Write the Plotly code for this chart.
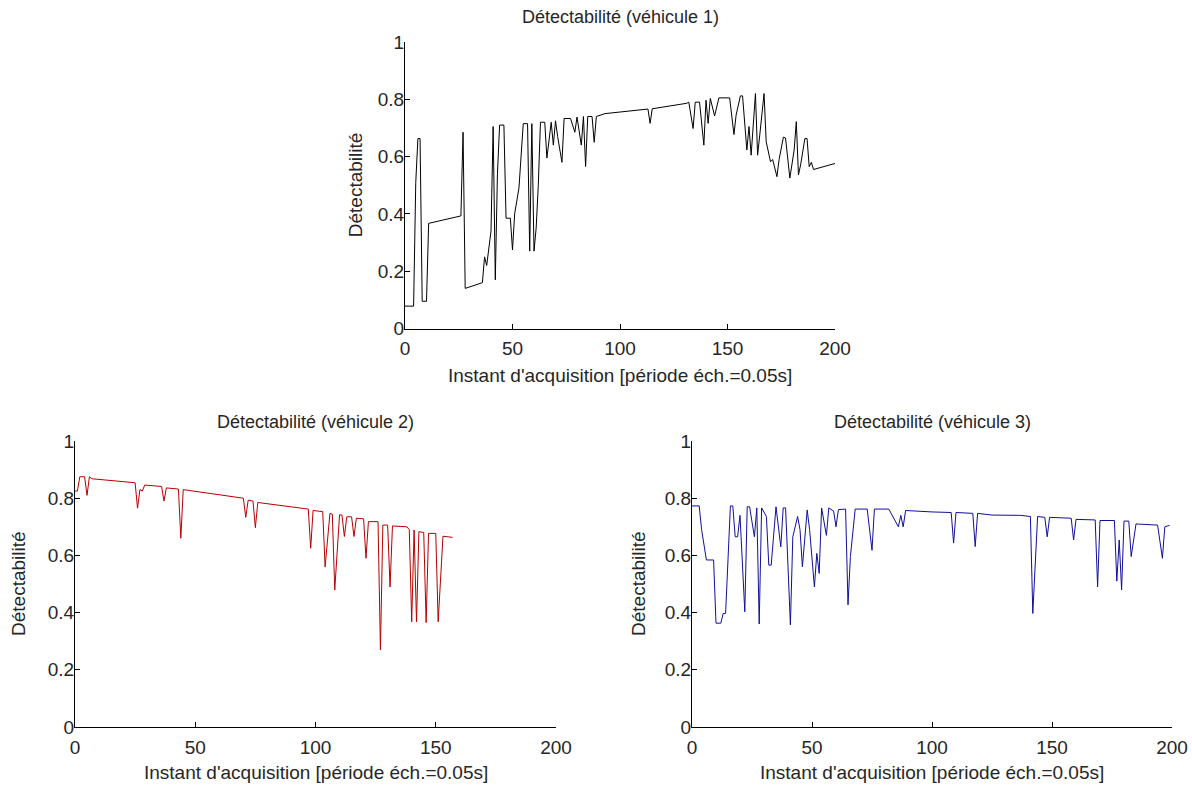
import plotly.graph_objects as go

W, H = 1192, 785

# ---- data ----
t1 = [0, 4, 5, 6, 7, 8, 10, 11, 26, 27, 28, 36, 37, 38, 40, 41, 42, 43, 44, 46,
      47, 49, 50, 51, 53, 55, 57, 58, 59, 60, 61, 62, 63, 65, 66, 68, 69, 70, 71, 73,
      74, 77, 79, 80, 82, 83, 84, 85, 87, 88, 89, 93, 113, 114, 115, 131, 132, 134, 135, 137,
      139, 140, 141, 142, 144, 146, 151, 153, 154, 156, 157, 159, 160, 161, 163, 164, 165, 167, 168, 170,
      171, 173, 174, 176, 177, 179, 181, 182, 183, 184, 186, 187, 188, 189, 190, 200]
d1 = [0.078, 0.078, 0.51, 0.663, 0.663, 0.095, 0.095, 0.367, 0.393, 0.685, 0.14, 0.16, 0.25, 0.22, 0.34, 0.705, 0.17, 0.54, 0.71, 0.71,
      0.385, 0.385, 0.274, 0.40, 0.49, 0.715, 0.715, 0.27, 0.715, 0.27, 0.35, 0.50, 0.72, 0.72, 0.595, 0.72, 0.64, 0.725, 0.67, 0.58,
      0.733, 0.733, 0.685, 0.738, 0.64, 0.74, 0.565, 0.74, 0.74, 0.65, 0.74, 0.75, 0.766, 0.716, 0.767, 0.786, 0.79, 0.698, 0.79, 0.79,
      0.64, 0.797, 0.716, 0.803, 0.742, 0.805, 0.805, 0.677, 0.745, 0.812, 0.812, 0.623, 0.705, 0.605, 0.82, 0.605, 0.675, 0.82, 0.652, 0.582,
      0.59, 0.53, 0.59, 0.668, 0.665, 0.525, 0.623, 0.722, 0.536, 0.571, 0.663, 0.663, 0.565, 0.58, 0.555, 0.576]

t2 = [0, 1, 2, 4, 5, 6, 7, 25, 26, 27, 28, 29, 36, 37, 38, 43, 44, 45, 70, 71,
      72, 74, 75, 76, 97, 98, 99, 103, 104, 106, 107, 108, 110, 111, 112, 113, 115, 116, 117, 120,
      121, 122, 126, 127, 128, 130, 131, 132, 138, 139, 140, 141, 142, 143, 145, 146, 147, 150, 151, 152,
      153, 157]
d2 = [0.825, 0.825, 0.875, 0.875, 0.81, 0.875, 0.868, 0.854, 0.765, 0.83, 0.825, 0.846, 0.841, 0.79, 0.836, 0.832, 0.66, 0.83, 0.80, 0.733,
      0.793, 0.79, 0.697, 0.785, 0.762, 0.625, 0.757, 0.753, 0.56, 0.747, 0.744, 0.479, 0.742, 0.741, 0.666, 0.735, 0.735, 0.666, 0.73, 0.728,
      0.59, 0.718, 0.718, 0.27, 0.706, 0.706, 0.49, 0.703, 0.70, 0.69, 0.368, 0.689, 0.368, 0.683, 0.68, 0.365, 0.677, 0.677, 0.368, 0.526,
      0.667, 0.663]

t3 = [0, 3, 4, 5, 6, 9, 10, 12, 13, 14, 15, 16, 17, 18, 19, 20, 22, 23, 24, 26,
      27, 28, 29, 31, 32, 33, 35, 36, 37, 38, 39, 41, 42, 44, 45, 46, 48, 49, 51, 52,
      53, 54, 56, 57, 59, 60, 61, 64, 65, 66, 68, 73, 75, 76, 82, 86, 87, 88, 89, 100,
      108, 109, 110, 117, 118, 119, 125, 137, 141, 142, 144, 147, 148, 149, 158, 159, 160, 168, 169, 170,
      176, 177, 178, 179, 180, 182, 183, 185, 194, 196, 197, 199]
d3 = [0.773, 0.773, 0.69, 0.642, 0.584, 0.584, 0.363, 0.363, 0.397, 0.397, 0.59, 0.773, 0.773, 0.665, 0.665, 0.74, 0.403, 0.77, 0.77, 0.665,
      0.766, 0.36, 0.766, 0.736, 0.566, 0.566, 0.77, 0.70, 0.63, 0.766, 0.766, 0.357, 0.665, 0.736, 0.69, 0.56, 0.759, 0.69, 0.49, 0.607,
      0.537, 0.766, 0.67, 0.766, 0.755, 0.70, 0.76, 0.762, 0.427, 0.596, 0.762, 0.762, 0.618, 0.762, 0.762, 0.70, 0.74, 0.70, 0.757, 0.752,
      0.75, 0.643, 0.75, 0.747, 0.631, 0.747, 0.741, 0.74, 0.736, 0.397, 0.736, 0.733, 0.665, 0.733, 0.73, 0.654, 0.726, 0.724, 0.49, 0.722,
      0.722, 0.51, 0.654, 0.479, 0.72, 0.72, 0.596, 0.71, 0.706, 0.59, 0.70, 0.705]

xtick_vals = [0, 50, 100, 150, 200]
ytick_vals = [0, 0.2, 0.4, 0.6, 0.8, 1]
ytick_text = ["0", "0.2", "0.4", "0.6", "0.8", "1"]

titles = ["Détectabilité (véhicule 1)", "Détectabilité (véhicule 2)", "Détectabilité (véhicule 3)"]
xlabel = "Instant d'acquisition [période éch.=0.05s]"
ylabel = "Détectabilité"

series = [(t1, d1, "#000000"), (t2, d2, "#b80000"), (t3, d3, "#10109a")]

# plot boxes in pixels: left, right, top, bottom
boxes = [(405, 835, 42, 328.5), (75, 556, 441, 727), (692, 1172, 441, 727)]
title_y = [17, 422, 422]
xlabel_y = [375, 772, 772]
ylabel_x = [355, 18, 638]

FONT = "Liberation Sans, Arial, sans-serif"
TXT = "#262626"

fig = go.Figure()
layout = dict(width=W, height=H, margin=dict(l=0, r=0, t=0, b=0, autoexpand=False),
              paper_bgcolor="white", plot_bgcolor="white", showlegend=False,
              font=dict(family=FONT, size=19, color=TXT))
annotations = []

def px(x):
    return x / W

def py(y):
    return 1 - y / H

for i, ((t, d, col), (l, r, tp, b)) in enumerate(zip(series, boxes)):
    suffix = "" if i == 0 else str(i + 1)
    fig.add_trace(go.Scatter(x=t, y=d, mode="lines", line=dict(color=col, width=1),
                             xaxis="x" + suffix, yaxis="y" + suffix, hoverinfo="skip"))
    layout["xaxis" + suffix] = dict(domain=[px(l), px(r)], anchor="y" + suffix, range=[0, 200],
                                    tickvals=xtick_vals, ticks="inside", ticklen=5, tickcolor="black",
                                    showline=True, linecolor="black", linewidth=1, showgrid=False,
                                    zeroline=False, ticklabelstandoff=3, automargin=False,
                                    tickfont=dict(family=FONT, size=19, color=TXT))
    layout["yaxis" + suffix] = dict(domain=[py(b), py(tp)], anchor="x" + suffix, range=[0, 1],
                                    tickvals=ytick_vals, ticktext=ytick_text, ticks="inside", ticklen=5,
                                    tickcolor="black", showline=True, linecolor="black", linewidth=1,
                                    showgrid=False, zeroline=False, ticklabelstandoff=-4, automargin=False,
                                    tickfont=dict(family=FONT, size=19, color=TXT))
    cx = (l + r) / 2
    annotations.append(dict(text=titles[i], x=px(cx), y=py(title_y[i]), xref="paper", yref="paper",
                            showarrow=False, xanchor="center", yanchor="middle",
                            font=dict(family=FONT, size=18, color=TXT)))
    annotations.append(dict(text=xlabel, x=px(cx), y=py(xlabel_y[i]), xref="paper", yref="paper",
                            showarrow=False, xanchor="center", yanchor="middle",
                            font=dict(family=FONT, size=19, color=TXT)))
    annotations.append(dict(text=ylabel, x=px(ylabel_x[i]), y=py((tp + b) / 2), xref="paper", yref="paper",
                            showarrow=False, xanchor="center", yanchor="middle", textangle=-90,
                            font=dict(family=FONT, size=19, color=TXT)))

layout["annotations"] = annotations
fig.update_layout(**layout)
fig.write_html("out.html")
